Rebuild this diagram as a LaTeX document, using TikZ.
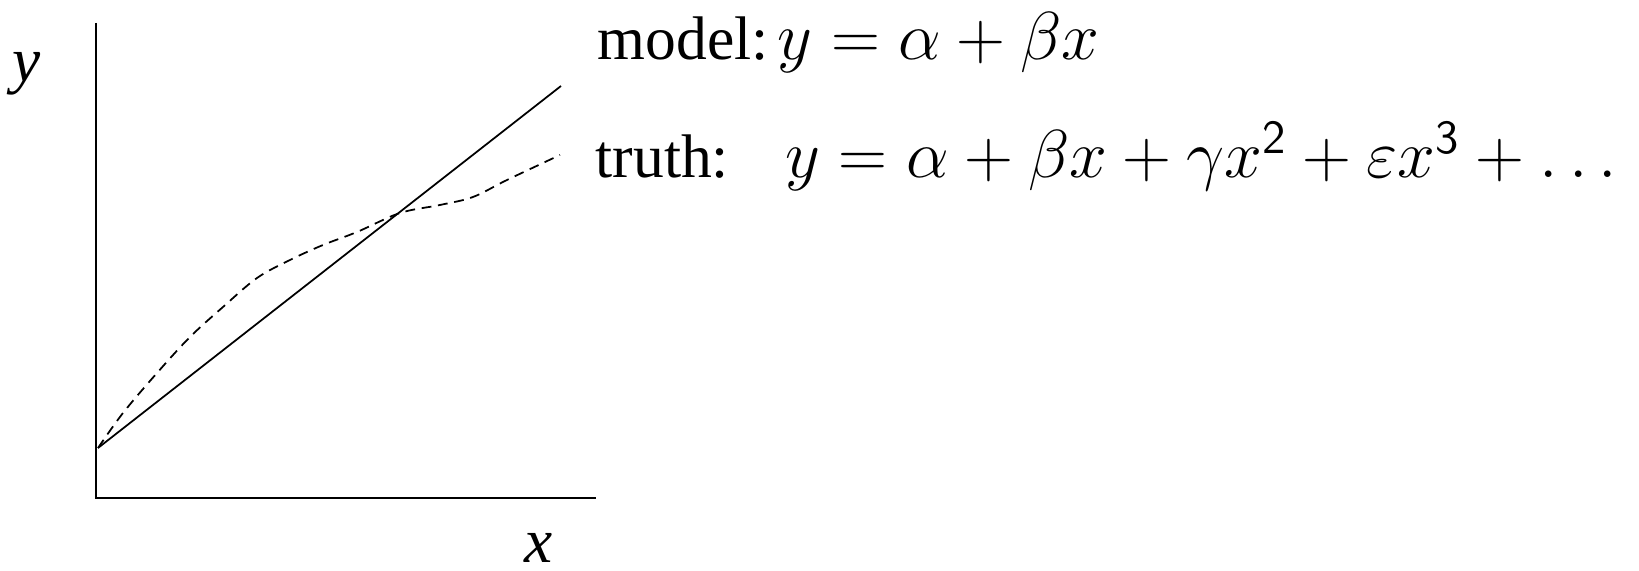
\RequirePackage{fix-cm}
\documentclass[tikz,border=0pt]{standalone}
\usepackage{amsmath,amssymb}
\usepackage{fontspec}
\setmainfont{Liberation Serif}
\usetikzlibrary{positioning}

\newcommand\lbltext[1]{{\fontsize{17.5}{20}\selectfont #1}}

\tikzset{
  axisline/.style={line width=0.7pt},
  curveline/.style={line width=0.5pt},
  truthdash/.style={dash pattern=on 2.8pt off 1.9pt},
  eqlabel/.style={anchor=base west,inner sep=0pt,font=\fontsize{19.3}{22}\selectfont},
  axislabel/.style={anchor=base,inner sep=0pt,font=\fontsize{18}{21}\selectfont\itshape}
}

\begin{document}
\begin{tikzpicture}[x=0.01cm,y=-0.01cm]
  \useasboundingbox (0,0) rectangle (1639,571);
  % axes
  \draw[axisline] (96,23) -- (96,498) -- (596,498);
  \node[axislabel] (ylab) at (27,82) {y};
  \node[axislabel] (xlab) at (539,563) {x};
  % model: straight line
  \draw[curveline] (98,448) -- (561,86);
  % truth: curved (dashed)
  \draw[curveline,truthdash] plot[smooth,tension=0.55] coordinates {
    (98,448) (123,413) (157,373) (190,337) (223,307) (257,278)
    (290,260) (323,245) (357,232) (400,213) (440,205) (473,197)
    (507,180) (560,155)};
  % equations
  \node[eqlabel] (model) at (597,60) {\lbltext{model:}\hspace{2.5pt}$y = \alpha + \beta x$};
  \node[eqlabel] (truth) at (595,178)
    {\lbltext{truth:}\hspace{16pt}$y = \alpha + \beta x + \gamma x^{\mathsf{2}} + \varepsilon x^{\mathsf{3}} + \ldots$};
\end{tikzpicture}
\end{document}
